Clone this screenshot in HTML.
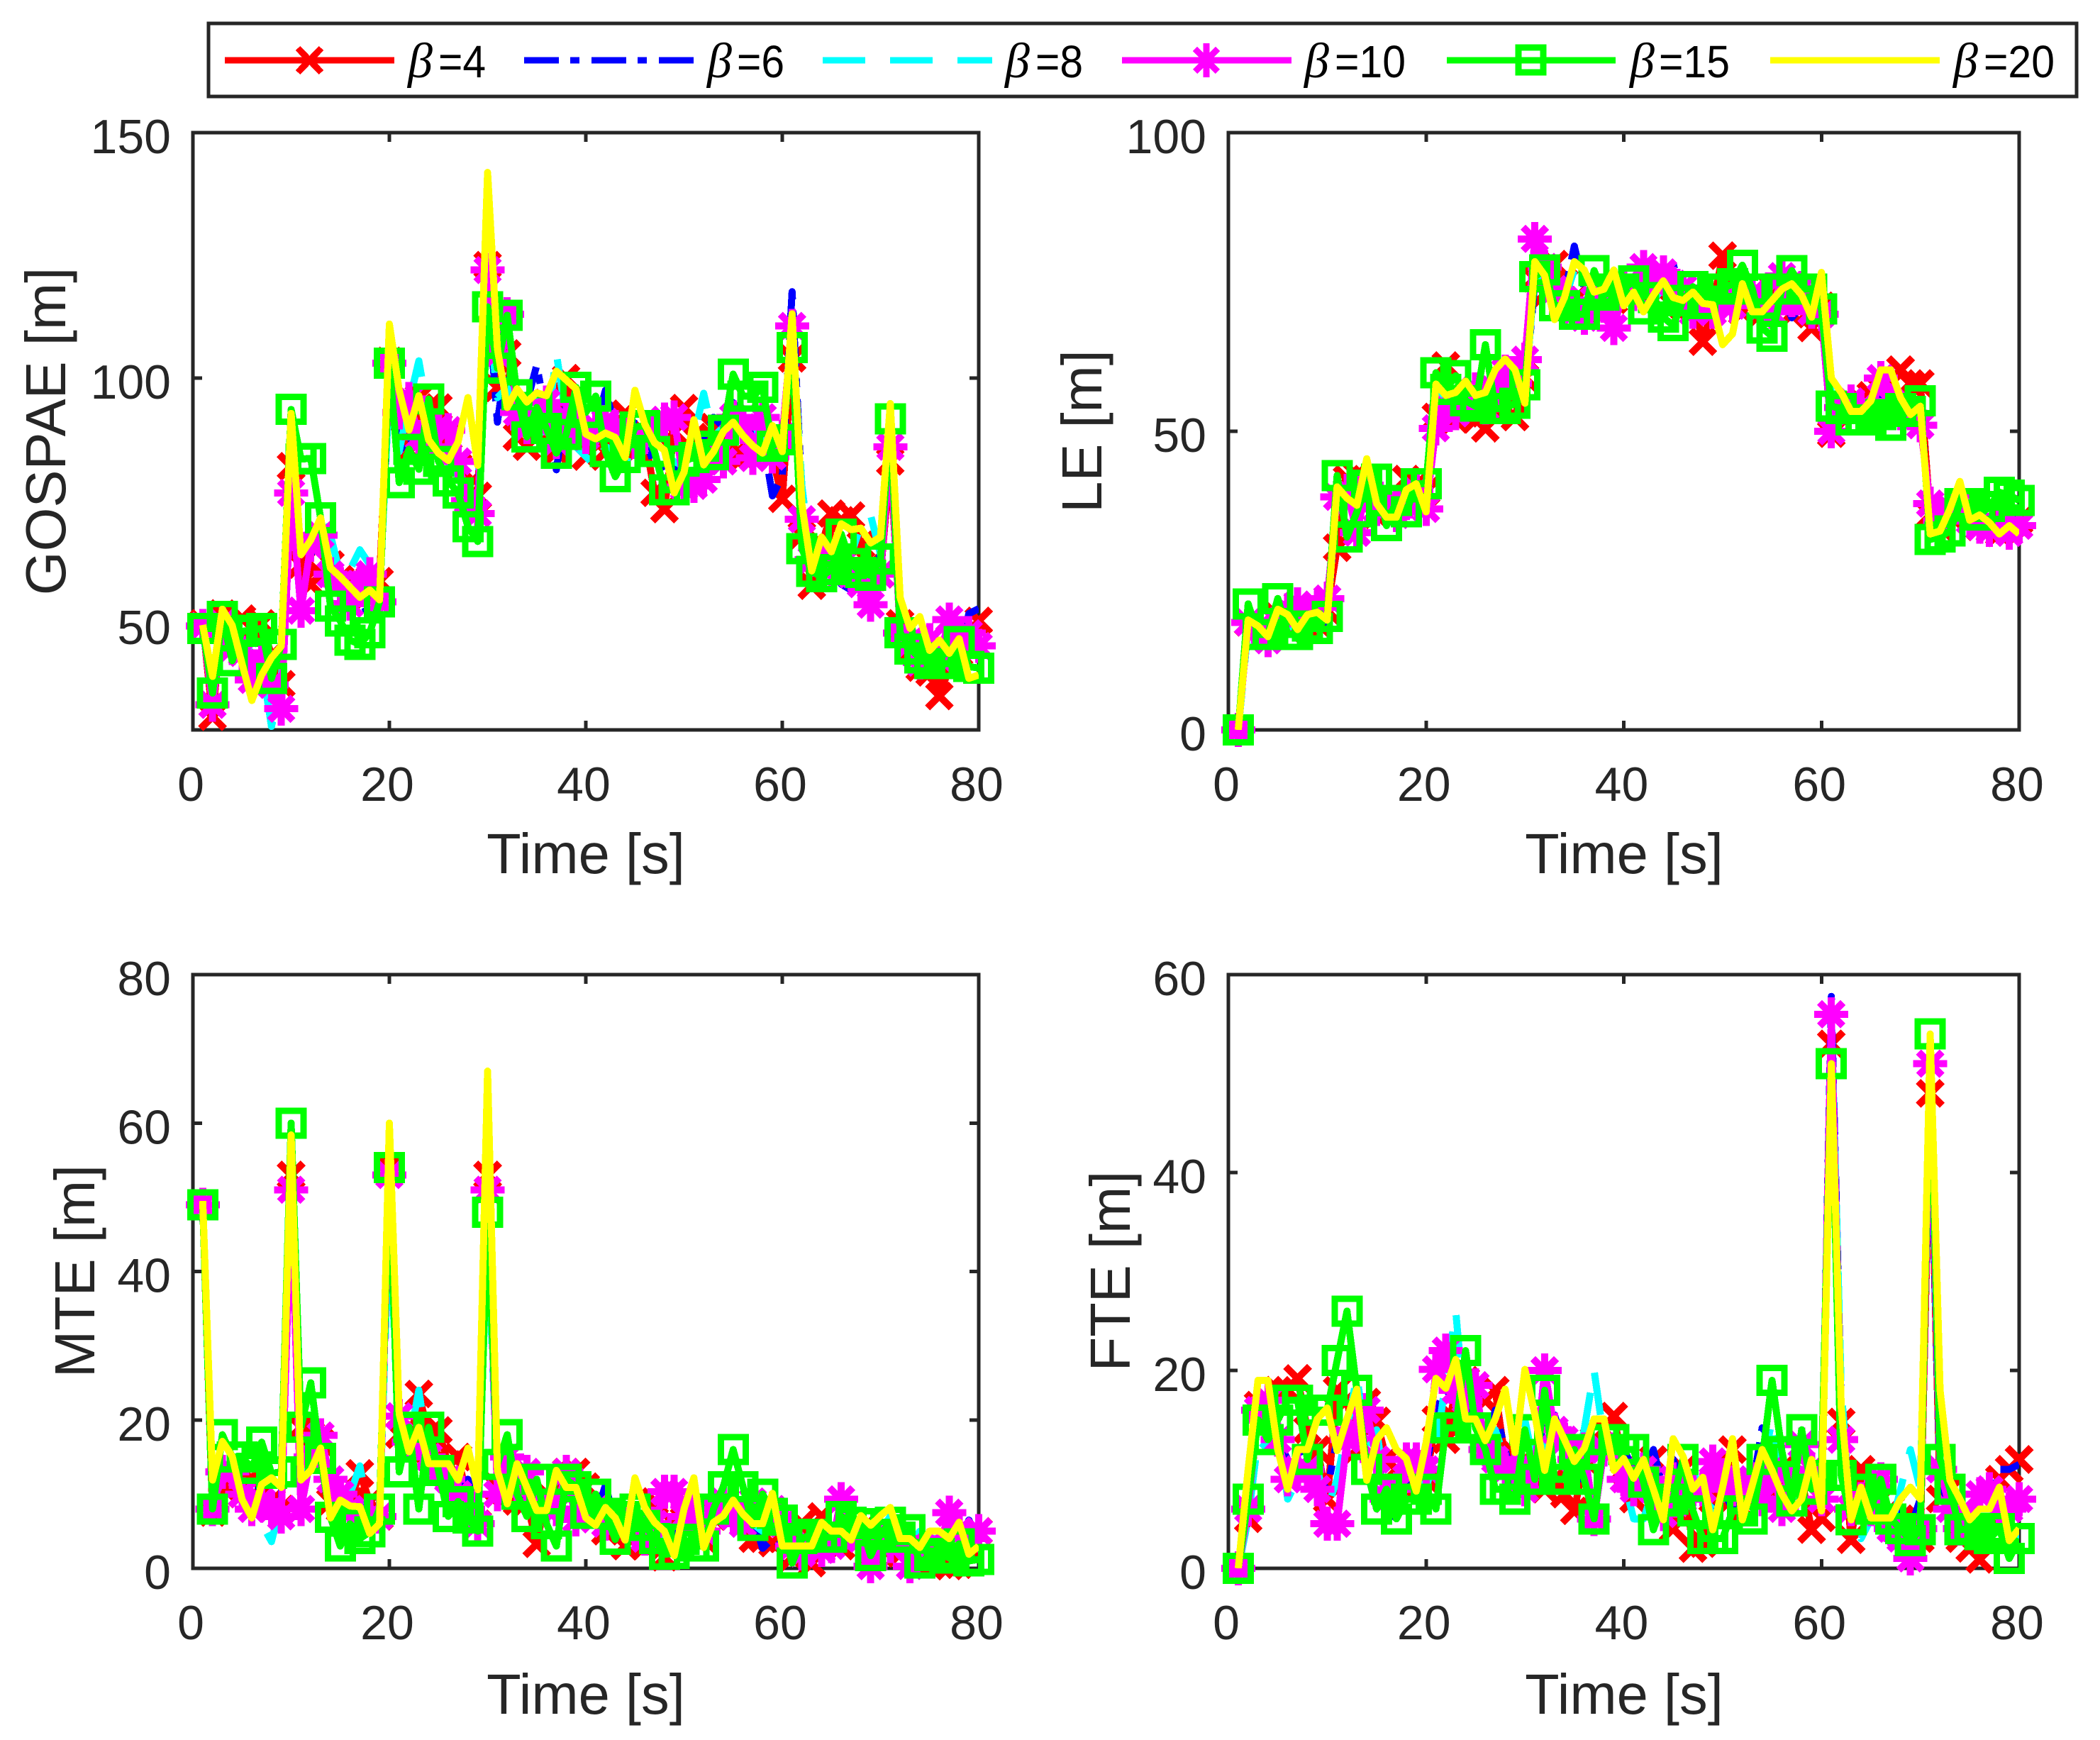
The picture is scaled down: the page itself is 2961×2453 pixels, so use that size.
<!DOCTYPE html>
<html lang="en">
<head>
<meta charset="utf-8">
<title>GOSPAE, LE, MTE and FTE over time</title>
<style>
html,body{margin:0;padding:0;background:#fff;}
svg{display:block;font-family:"Liberation Sans",sans-serif;}
.ax{fill:#262626;}
.ylab,.xlab{font-size:79.5px;fill:#262626;text-anchor:middle;}
.tick{font-size:68px;fill:#262626;}
.leg{font-size:64px;fill:#000;}
.beta{font-family:"Liberation Serif",serif;font-style:italic;font-size:70px;fill:#000;}
</style>
</head>
<body>
<svg id="figure" xmlns="http://www.w3.org/2000/svg" width="2961" height="2453" viewBox="0 0 2961 2453">
  <rect x="0" y="0" width="2961" height="2453" fill="#fff"/>

  <g id="legend">
    <rect x="294" y="33" width="2634" height="103" fill="#fff" stroke="#262626" stroke-width="5"/>
    <g shape-rendering="crispEdges">
      <line x1="317" y1="85" x2="556" y2="85" stroke="#f00" stroke-width="9"/>
      <path d="M420 68 L453 102 M453 68 L420 102" stroke="#f00" stroke-width="9" fill="none"/>
      <text class="beta" x="575" y="109">β</text><text class="leg" x="618" y="109" textLength="67" lengthAdjust="spacingAndGlyphs">=4</text>
    </g>
    <g shape-rendering="crispEdges">
      <line x1="739" y1="85" x2="978" y2="85" stroke="#00f" stroke-width="9" stroke-dasharray="49 16 13 17"/>
      <text class="beta" x="997" y="109">β</text><text class="leg" x="1039" y="109" textLength="67" lengthAdjust="spacingAndGlyphs">=6</text>
    </g>
    <g shape-rendering="crispEdges">
      <line x1="1160" y1="85" x2="1399" y2="85" stroke="#0ff" stroke-width="9" stroke-dasharray="60 35"/>
      <text class="beta" x="1417" y="109">β</text><text class="leg" x="1460" y="109" textLength="67" lengthAdjust="spacingAndGlyphs">=8</text>
    </g>
    <g shape-rendering="crispEdges">
      <line x1="1582" y1="85" x2="1821" y2="85" stroke="#f0f" stroke-width="9"/>
      <path d="M1701 61 L1701 109 M1685 69 L1717 101 M1717 69 L1685 101" stroke="#f0f" stroke-width="9" fill="none"/>
      <text class="beta" x="1839" y="109">β</text><text class="leg" x="1882" y="109" textLength="100" lengthAdjust="spacingAndGlyphs">=10</text>
    </g>
    <g shape-rendering="crispEdges">
      <line x1="2040" y1="85" x2="2278" y2="85" stroke="#0f0" stroke-width="9"/>
      <rect x="2141" y="67" width="35" height="35" fill="none" stroke="#0f0" stroke-width="9"/>
      <text class="beta" x="2298" y="109">β</text><text class="leg" x="2339" y="109" textLength="100" lengthAdjust="spacingAndGlyphs">=15</text>
    </g>
    <g shape-rendering="crispEdges">
      <line x1="2496" y1="85" x2="2735" y2="85" stroke="#ff0" stroke-width="9"/>
      <text class="beta" x="2754" y="109">β</text><text class="leg" x="2797" y="109" textLength="100" lengthAdjust="spacingAndGlyphs">=20</text>
    </g>
  </g>

  <text class="ylab" transform="translate(92 608) rotate(-90)">GOSPAE [m]</text>
  <text class="xlab" x="826" y="1231">Time [s]</text>
  <text class="ylab" transform="translate(1553 608) rotate(-90)">LE [m]</text>
  <text class="xlab" x="2290" y="1231">Time [s]</text>
  <text class="ylab" transform="translate(133 1792) rotate(-90)">MTE [m]</text>
  <text class="xlab" x="826" y="2416">Time [s]</text>
  <text class="ylab" transform="translate(1593 1792) rotate(-90)">FTE [m]</text>
  <text class="xlab" x="2290" y="2416">Time [s]</text>
</svg>

<script>
const timeSeconds = [
1,2,3,4,5,6,7,8,9,10,11,12,13,14,15,16,17,18,19,20,
21,22,23,24,25,26,27,28,29,30,31,32,33,34,35,36,37,38,39,40,
41,42,43,44,45,46,47,48,49,50,51,52,53,54,55,56,57,58,59,60,
61,62,63,64,65,66,67,68,69,70,71,72,73,74,75,76,77,78,79,80];

const xTickLabels = [0,20,40,60,80];
const gospaeTickLabels = [50,100,150];
const leTickLabels = [0,50,100];
const mteTickLabels = [0,20,40,60,80];
const fteTickLabels = [0,20,40,60];

const gospaeBeta4 = [
50,31,52,49,51,49,50,43.5,37.6,82,
62,58,60,62,59,56,57,59,58.6,103.5,
92,85,96,94,94,88,82,78,76,123,
98,105,88,86,90,92,85,100,89,84,
87,85,88,92.7,85,88,76.6,73.3,89,93.9,
88,88,90,85,84,84,87,85,84,75.4,
104,68,57.7,66,72.4,71,72,66,62,60,
83,50,45,41,40,35.2,41,44,47,50.5];
const gospaeBeta6 = [
49,36,50,46,48,47,45,38,42,88,
64,64,68,62,58,55,52,53,55,100,
85,88,85,92,88,85,80,78,74,118,
91,105,97,95,102.6,92,81.3,95,90,88,
90,97.5,90,86,92,88,82,82,80,85,
85,88,92,90,95,92,88,88,76,80,
117.6,76,62,60,62,58,56.8,62,60,64,
88,50,46,44,43,45,50,44,52,53];
const gospaeBeta8 = [
48,37,50,48,46,44,42,29,38,85,
64,70,72,68,60,61,65,62,56,98,
85,95,103.5,92,88,82,80,76,78,116,
96,98,94,92,96,88,105,92,86,84,
82,86,85,82,88,86,90,84,83,82,
88,96.9,88,90,92,90,92,86,90,84,
110,78,62,62,64,62,64,70,72,64,
85,52,46,45,42,44,48,44,44,44];
const gospaeBeta10 = [
49.5,33.4,50,45,44,38.5,42,37.5,32.6,76.6,
52.6,66,68,60,58,54,58,60,54.4,103,
93,95.7,88,86,90,89.4,83,75,72.4,122,
105,113,93,90,91,95,87,92,90,88,
90,91,90,88,87,88,90,91.5,92,77.8,
78,79.3,84,83,92,90,83.7,92,84,88,
110.6,71.2,63,64,61,62,60,58,53.8,60,
86,48,46,42,46.6,43,50.8,45,48,45.4];
const gospaeBeta15 = [
49,35.8,51.4,42.4,48.4,48.6,49,38.8,45.7,93.6,
83.5,83.6,71.5,53.5,50.5,46.6,45.7,48.1,54.4,103,
78.7,85.5,81.4,95.7,83,79,76.6,69.7,66.7,114.5,
102,112.8,96.6,88,94,89.7,84.7,88.5,98.1,93,
96.3,85,79.9,83.8,90,90.3,85,77.2,77.2,83.1,
83.8,86.1,84.4,89.4,100.8,96.3,96.3,98.1,86.1,87.4,
106.2,65.2,60.6,59.5,61,68.2,62.2,60.4,59.8,63.1,
91.7,48.1,44.8,43,41.8,41.8,41.8,46.3,41.2,40.9];
const gospaeBeta20 = [
49.7,39.2,52.9,49.6,41.8,34.3,39.5,43,45.4,92.8,
64,67,71.5,61.3,59.5,57.4,55.3,56.8,54.8,111,
97.5,89.4,96.4,87.4,84.7,83.2,87,96,82.2,141.9,
106,94,97.8,95.1,97,96.4,101.4,99.6,97.8,88.6,
87.6,88.8,87.9,83.8,97.5,90.6,86.8,85.3,76.6,80.8,
91.5,82.3,85,89.1,91,88.3,86.2,84.7,90.3,85,
113.1,74.2,60.7,67.6,64.6,70.3,69.1,69.4,66.4,67.6,
94.8,55.3,49,51.4,44.5,46.6,43.9,46.9,38.8,39.5];

const leBeta4 = [
0,18,17,16,19,17,18,17,18,20,
30.5,42,42.6,41,36,38,38,42,41,40,
52.4,61,52,53,52,50.5,54,54,52.4,59,
75.6,73,78,75,72,70,72,71,72,73,
74,73,72,74,71,71,72,65,71,79.4,
72,70,72,70,74,72,69.6,72,67.3,71,
49.6,54,55,55,56,57,58,60.3,58,58,
36,34,36,36,36,34,35,33,34,35];
const leBeta6 = [
0,18,17,16,19,18,17,18,19,18,
40,39,36,41,37,36,36,39,40,38,
55,57,55,57,55,56,56,58,56,56,
75,74,69,73,81,74,72,73,74,72,
73,73,72,74,78,72,71,72,72,72,
71,73,72,72,73,73,69,71,70,72,
53,54,54,54,54,56,55,55,54,54,
35,37,36,37,36,36,36,36,35,36];
const leBeta8 = [
0,17,18,16,19,17,18,18,18,19,
41,38,37,42,36,37,37,40,41,37,
56,56,56,58,56,56,58,60,58,55,
77,75,70,72,77,75,73,73,75,71,
73,71,72,74,73,71,72,71,72,70,
70,73,71,71,72,73,73,72,70,74,
56,55,53,54,55,58,57,55,53,54,
33,35,36,39,36,36,35,34,34,34];
const leBeta10 = [
0,18,17,15,18,20,21,19,20.5,22,
39,40,33,41,37,38,36,38,40,37,
50.5,54,53,55,57,54,56,60,58,62,
82.2,77.5,73.8,72,70,69,72,71,67.3,74,
73,77.5,75,76.6,74.7,74,70,72,70,72,
71,74,73,71,70,76,72,74,70,69.6,
50,54,55,54,53,58.9,55,53,53,51,
37.9,35,37,38,35,34,33.5,34,33,34.2];
const leBeta15 = [
0,21.1,16,16,22,16,16,17.4,17,19,
42.6,32.3,36.5,41,42,34.2,38.4,36.5,41.2,41.2,
59.8,57,59.3,55.1,54.2,64.5,53.8,53.8,54.7,57.8,
75.9,77,71,71,69.6,69.6,76.9,72.8,73.8,73.8,
75.2,70.5,72.4,69.1,67.7,71.9,74.2,71.4,73.8,73.8,
74.7,77.8,73.8,67.3,65.9,73.8,76.9,73.8,73.8,70.5,
54.2,53.8,51.9,51.9,51.9,52.8,51,53.8,53.3,55.1,
31.9,32.3,33.3,37.9,37.9,36,37.4,39.8,39.3,38.4];
const leBeta20 = [
0,18.4,17.4,15.6,20.2,19.3,16.8,19.3,19.7,18.4,
40.7,38.8,37.6,45.4,37.9,35.6,35.6,40.2,41.2,36.5,
57.9,56,56.5,58.4,56,56.5,60.3,62.1,60.3,54.7,
78.4,76.1,68.7,72.4,78.4,77,73.3,73.8,77,71,
73.3,70,72.8,75.2,72.4,71.9,73.3,71.4,71.2,64.5,
66.3,74.7,70,70,71.9,73.8,74.7,72.8,69.1,76.6,
58.9,56.5,53.3,53.3,55.1,60.3,60.3,55.6,52.8,54.2,
32.8,33.3,37,41.6,35.1,36,34.7,32.8,34.2,32.8];

const mteBeta4 = [
49,7.5,11,11,10,12,11,9,8,53,
19,18,17,9,8,9,12.8,9,7,54,
18,16,23.5,18,18.6,14,15,9,6,53,
11,10,9,9,3.3,10,9,13,13,11,
9,5,6,3,5,3,9,1.5,6,9,
7,4,7,8,7,7,4,4,3.4,4,
1.5,6,0.7,7,5,3,5,5,2,3,
4,2,3,3,0.6,1,0.3,0.5,3,5];
const mteBeta6 = [
49,9,13,14,11,10,11,9,9,52,
14,16,15,9,9,8,9,6,7,53,
17,15,18,15,14,13,11,12,8,50,
11,12,10,10,8,9,8,11,10,8,
7,11.2,6,5,6,5,6,3,4,7,
6,4,7,7,8,7,7,2.7,4,3,
2,4,3,5,4,4,4,4,3,4,
3,3,3,3,3,3,3,4,6.5,4];
const mteBeta8 = [
49,9,12,13,10,8,6,3.6,9,50,
13,17,15,10,9,10,13.8,7,7,48,
16,17,24,15,13,12,10,10,7,46,
11,13,10,11,9,8,13,11,10,7,
6,7,9,5,6,5,6,4,3,8,
9,4,6,8,10,7,6,5,8,4,
3,3,3,6,5,5,4,6,5,5,
7,4,3,5,4,4,4,5,3,3];
const mteBeta10 = [
49,8,13,13,10,8,9,8,7,51,
8,15,17.9,12,10,8,7,7,7,53,
20.5,17,17,15,13,12,10,8,6,51,
10,15,11,13,9,8,8,13,6.6,8,
8,6,6,6,5,4,6,10.3,10.3,7,
8,5,8,9,7,6,9,8,8,6,
3,2,3,2.5,3,9.3,5,4,0.3,4,
3,4,0.3,2,3,3,7.5,5,4,5];
const mteBeta15 = [
49,8,18,15,15,13.5,17,12.8,13,60,
19,25,14.8,6.9,3,6,4,4.9,8,54,
13,19,8,19,13.2,7,9,6.8,5,48,
14,18,10,7,12,6,3,12,11,7.4,
10,7.4,3.9,7,8,5.8,4,1.9,2,3.9,
3,3,8,11,16,11,5.8,10,7.4,6.5,
0.7,4,4.6,4.2,4.2,7,6.2,6,1.7,4.6,
6.2,4.2,5.2,0.7,1.7,2,1.4,3.3,1,1.2];
const mteBeta20 = [
49.5,11.9,17.1,15.1,9.3,6.8,11.3,12.2,10.9,58.4,
11.9,13.2,16.2,6.8,9.2,8.4,8.3,4.7,6,60,
20.8,15.7,19,14.1,14.1,14.1,11.9,16.2,10.6,67,
13.2,8.7,14.1,10.9,7.8,7.8,13.2,10.9,10.9,6.8,
5.8,8.2,6.8,3.8,12.2,8.2,6.2,5,1.7,8,
12.2,2.8,6.2,7.1,9.2,7.3,6,6,10.1,3,
3,3,3,6.2,5,5,3.8,7.1,5.8,7.1,
8.2,4,4,2.8,5,5,4,6.2,1.9,3];

const fteBeta4 = [
0,5,16.5,16,18,18,19.2,14,12,7,
18,17,12,16.8,14.9,11,10,9,8,9,
15,13,18,19,18,17,18,11,11.5,11,
12,8,9,7.5,5.8,11,13,14,15.4,10,
7,9,11,7,4,10,2,2.5,7,7,
12,6,8,9,7,10,8,9,3.9,5.1,
53,14.8,2.9,10,8,7,6,5,5,3,
48,7,8,3,2,0.9,5,9,10,11];
const fteBeta6 = [
0,7,16,17,13,11,12,10,9,8,
13,14,13,15,12,6,5,9,9,10,
16,18,17,16,15,12,16,12,8,14,
11,15,15.5,12,8,10,6,12,13,12,
10,9,12,8,11,8,8,9,5,8,
6,7,8,14.2,13,9,8,10,10,6,
57.8,16,6,8,6,7,5,6,4,7,
48,9,6,4,4,5,6,10,10,10.5];
const fteBeta8 = [
0,5,13,12,14,7,9,9,10,6,
9,14,19.5,12,14,7,8,10,9,8,
12,19,26,15,13,12,14,11,9,15,
10,13,14,12,9,14,20,13,11,9,
5,5,8,9,7,8,10,7,6,8,
7,9,11,10,15,9,7,8,10,7,
56,18,6,3,5,6,4,8,12,8,
50,10,7,4,4,5,6,7,6,3];
const fteBeta10 = [
0,6,16,17,13,9,10,10,8,4.5,
4.5,13,14,16,11,7,8,11,11,10,
20.1,22,18,17,18.5,12,11,10,10,8,
10,20,14,13,11,12,5,12,12,9,
8,10,8,5.5,9,7,8,8,10.8,9,
8,8,9,7,10,6,9,12.5,10,7,
56,13,6,7,6,9,4,3,1,4,
51,10,6,4,5,7.5,8,6,6,7];
const fteBeta15 = [
0,7,15,13,15,17,17,11,16,16,
21,26,18,10,6,8,5,7,7,8,
6,14.2,14.2,22,14.2,12,8,8,7,14,
9,18,9,9,12,9,5,13,13,12,
12,8.7,3.9,6.8,7,11,5.8,3,3,3,
5.8,5.8,5,11,19,11.8,6.8,14,8,9.4,
51,9.4,4.9,8,6,9,5,4,2.8,3.9,
54,11,8,3.9,4,3.4,3,4,1,3];
const fteBeta20 = [
0,10,19,19,12,8,12,12,15.1,16.2,
11.9,15.1,18.1,8.9,13,14.2,12,11.1,7.8,12.7,
19.2,18.2,21.1,15.1,15.1,12.9,15.1,18.1,11.7,20.1,
15.6,9.9,15.1,13,10.8,12.1,15.1,15.1,9.9,11.1,
9.1,11,8,4.9,13.1,11.3,8,9.2,3.9,8.2,
13.1,4.9,8.4,12,9.9,7.5,5.8,7,11,5.8,
51,16.3,4.9,8.2,5.1,5.1,5.1,7,8.2,7,
54,18,8.9,7,4.9,6,6,8.2,2.8,4];

const NS = 'http://www.w3.org/2000/svg';
const figure = document.getElementById('figure');

function make(tag, attrs, parent) {
  const el = document.createElementNS(NS, tag);
  for (const k in attrs) el.setAttribute(k, attrs[k]);
  parent.appendChild(el);
  return el;
}

function markerPath(kind, cx, cy) {
  if (kind === 'x') {
    const d = 16.8;
    return `M${cx-d} ${cy-d}L${cx+d} ${cy+d}M${cx+d} ${cy-d}L${cx-d} ${cy+d}`;
  }
  if (kind === 'star') {
    const a = 24, d = 16.5;
    return `M${cx-a} ${cy}L${cx+a} ${cy}M${cx} ${cy-a}L${cx} ${cy+a}M${cx-d} ${cy-d}L${cx+d} ${cy+d}M${cx+d} ${cy-d}L${cx-d} ${cy+d}`;
  }
  const s = 17.5;
  return `M${cx-s} ${cy-s}L${cx+s} ${cy-s}L${cx+s} ${cy+s}L${cx-s} ${cy+s}Z`;
}

function drawPanel(p) {
  const xScale = t => p.left + (t / 80) * (p.right - p.left);
  const yScale = v => p.bottom - ((v - p.yMin) / (p.yMax - p.yMin)) * (p.bottom - p.top);

  const g = make('g', {}, figure);
  
  

  const clipId = p.name + '-clip';
  const defs = make('defs', {}, g);
  const clip = make('clipPath', {id: clipId}, defs);
  make('rect', {x: p.left, y: p.top, width: p.right - p.left, height: p.bottom - p.top}, clip);

  const frame = make('rect', {x: p.left, y: p.top, width: p.right - p.left, height: p.bottom - p.top,
    fill: '#fff', stroke: '#262626', 'stroke-width': 5, 'shape-rendering': 'crispEdges'}, g);
  
  

  xTickLabels.forEach(t => {
    const x = xScale(t);
    const tick = make('path', {d: `M${x} ${p.bottom}V${p.bottom-13}M${x} ${p.top}V${p.top+13}`,
      stroke: '#262626', 'stroke-width': 5, 'shape-rendering': 'crispEdges'}, g);
    
    
    const label = make('text', {class: 'tick', x: x - 3, y: p.bottom + 100, 'text-anchor': 'middle'}, g);
    label.textContent = t;
    
    
  });

  p.yTicks.forEach(v => {
    const y = yScale(v);
    const tick = make('path', {d: `M${p.left} ${y}H${p.left+13}M${p.right} ${y}H${p.right-13}`,
      stroke: '#262626', 'stroke-width': 5, 'shape-rendering': 'crispEdges'}, g);
    
    
    const label = make('text', {class: 'tick', x: p.left - 31, y: y + 29, 'text-anchor': 'end'}, g);
    label.textContent = v;
    
    
  });

  p.series.forEach(s => {
    const sg = make('g', {'shape-rendering': 'crispEdges'}, g);
    
    

    const pts = timeSeconds.map((t, i) => xScale(t) + ',' + yScale(s.values[i])).join(' ');
    const attrs = {points: pts, fill: 'none', stroke: s.color, 'stroke-width': 10,
      'stroke-linejoin': 'round', 'clip-path': `url(#${clipId})`};
    if (s.dash) attrs['stroke-dasharray'] = s.dash;
    const line = make('polyline', attrs, sg);
    
    

    if (s.marker) {
      timeSeconds.forEach((t, i) => {
        const v = s.values[i];
        if (v < p.yMin || v > p.yMax) return;
        const m = make('path', {d: markerPath(s.marker, xScale(t), yScale(v)),
          fill: 'none', stroke: s.color, 'stroke-width': s.marker === 'square' ? 9 : 10}, sg);
        
        
      });
    }
  });
}

function seriesFor(a, b, c, d, e, f) {
  return [
    {label: 'beta-4',  values: a, color: '#f00', marker: 'x'},
    {label: 'beta-6',  values: b, color: '#00f', dash: '49 16 13 17'},
    {label: 'beta-8',  values: c, color: '#0ff', dash: '60 35'},
    {label: 'beta-10', values: d, color: '#f0f', marker: 'star'},
    {label: 'beta-15', values: e, color: '#0f0', marker: 'square'},
    {label: 'beta-20', values: f, color: '#ff0'}
  ];
}

drawPanel({name: 'gospae', left: 272, right: 1380, top: 187, bottom: 1029, yMin: 28.3, yMax: 150,
  yTicks: gospaeTickLabels,
  series: seriesFor(gospaeBeta4, gospaeBeta6, gospaeBeta8, gospaeBeta10, gospaeBeta15, gospaeBeta20)});
drawPanel({name: 'le', left: 1732, right: 2847, top: 187, bottom: 1029, yMin: 0, yMax: 100,
  yTicks: leTickLabels,
  series: seriesFor(leBeta4, leBeta6, leBeta8, leBeta10, leBeta15, leBeta20)});
drawPanel({name: 'mte', left: 272, right: 1380, top: 1374, bottom: 2211, yMin: 0, yMax: 80,
  yTicks: mteTickLabels,
  series: seriesFor(mteBeta4, mteBeta6, mteBeta8, mteBeta10, mteBeta15, mteBeta20)});
drawPanel({name: 'fte', left: 1732, right: 2847, top: 1374, bottom: 2211, yMin: 0, yMax: 60,
  yTicks: fteTickLabels,
  series: seriesFor(fteBeta4, fteBeta6, fteBeta8, fteBeta10, fteBeta15, fteBeta20)});
</script>
</body>
</html>
